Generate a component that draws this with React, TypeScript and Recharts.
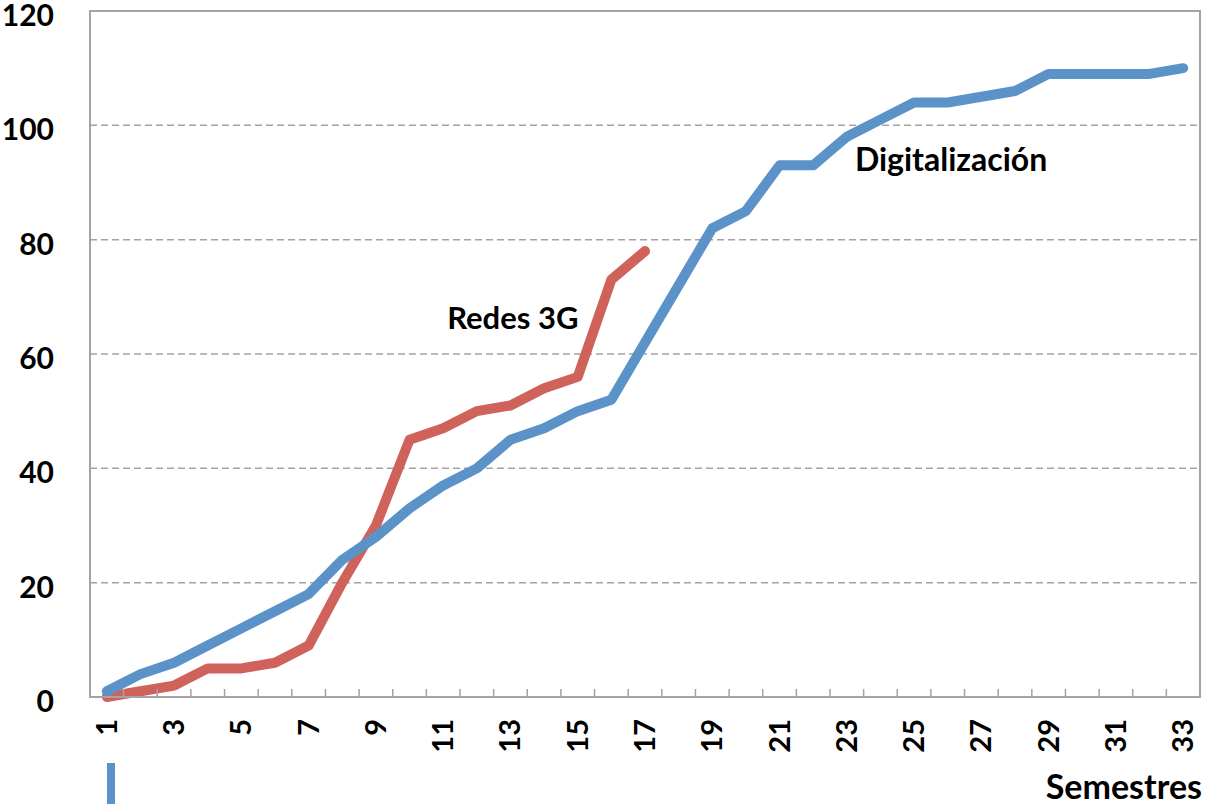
import React from 'react';
import {
  LineChart,
  Line,
  XAxis,
  YAxis,
  CartesianGrid,
  ReferenceArea,
  ReferenceDot,
} from 'recharts';

// ---- data ----
const semestres: number[] = [
  1, 2, 3, 4, 5, 6, 7, 8, 9, 10, 11, 12, 13, 14, 15, 16, 17,
  18, 19, 20, 21, 22, 23, 24, 25, 26, 27, 28, 29, 30, 31, 32, 33,
];
const digitalizacion: number[] = [
  1, 4, 6, 9, 12, 15, 18, 24, 28, 33, 37, 40, 45, 47, 50, 52, 62,
  72, 82, 85, 93, 93, 98, 101, 104, 104, 105, 106, 109, 109, 109, 109, 110,
];
const redes3G: number[] = [0, 1, 2, 5, 5, 6, 9, 20, 30, 45, 47, 50, 51, 54, 56, 73, 78];
const xTickLabels: number[] = [1, 3, 5, 7, 9, 11, 13, 15, 17, 19, 21, 23, 25, 27, 29, 31, 33];
const xBoundaries: number[] = semestres.map((s) => s - 0.5).concat([semestres[semestres.length - 1] + 0.5]);
const yTicks: number[] = [0, 20, 40, 60, 80, 100, 120];
const seriesNames = { dig: 'Digitalización', red: 'Redes 3G' };
const axisTitle = 'Semestres';

const data = semestres.map((s, i) => ({
  sem: s,
  dig: digitalizacion[i],
  red: i < redes3G.length ? redes3G[i] : null,
}));

// all axis ticks: category boundaries (tick marks) + labelled categories
const allXTicks: number[] = xBoundaries.concat(xTickLabels).sort((a, b) => a - b);

const FONT = 'Lato, "Open Sans", sans-serif';
const BLUE = '#5B93C9';
const RED = '#CF635B';
const GRAY = '#A3A3A3';

const XTick = (props: any) => {
  const { x, y, payload } = props;
  const v = payload.value as number;
  if (!Number.isInteger(v)) {
    return <line x1={x} x2={x} y1={y} y2={y - 8} stroke={GRAY} strokeWidth={1.5} />;
  }
  return (
    <text
      x={0}
      y={0}
      transform={`translate(${x + 10},${y + 22}) rotate(-90)`}
      textAnchor="end"
      fontFamily={FONT}
      fontWeight={700}
      fontSize={29}
      fill="#000"
    >
      {v}
    </text>
  );
};

const YTick = (props: any) => {
  const { x, y, payload } = props;
  return (
    <text
      x={x}
      y={y + 15}
      textAnchor="end"
      fontFamily={FONT}
      fontWeight={700}
      fontSize={30}
      fill="#000"
    >
      {payload.value}
    </text>
  );
};

const SeriesLabel = (text: string, size: number) => (props: any) => {
  const { viewBox } = props;
  const cx = viewBox.x + (viewBox.width || 0) / 2;
  const cy = viewBox.y + (viewBox.height || 0) / 2;
  return (
    <text
      x={cx}
      y={cy + 11}
      textAnchor="middle"
      fontFamily={FONT}
      fontWeight={700}
      fontSize={size}
      fill="#000"
    >
      {text}
    </text>
  );
};

export default function App() {
  return (
    <div style={{ position: 'absolute', left: 0, top: 0, width: 1207, height: 804, background: '#fff' }}>
      <LineChart
        width={1207}
        height={804}
        data={data}
        margin={{ top: 11, right: 7, bottom: 0, left: 0 }}
      >
        <CartesianGrid
          horizontal
          vertical={false}
          stroke={GRAY}
          strokeWidth={1.5}
          strokeDasharray="7 4"
        />
        <XAxis
          type="number"
          dataKey="sem"
          domain={[0.5, 33.5]}
          ticks={allXTicks}
          interval={0}
          height={107}
          tickLine={false}
          tickSize={0}
          tickMargin={0}
          axisLine={{ stroke: GRAY, strokeWidth: 2 }}
          tick={<XTick />}
          allowDataOverflow
        />
        <YAxis
          width={90}
          domain={[0, 120]}
          ticks={yTicks}
          tickLine={false}
          tickSize={0}
          tickMargin={36}
          axisLine={{ stroke: GRAY, strokeWidth: 2 }}
          tick={<YTick />}
          interval={0}
        />
        <ReferenceArea
          x1={0.5}
          x2={33.5}
          y1={0}
          y2={120}
          fill="none"
          fillOpacity={0}
          stroke={GRAY}
          strokeWidth={2}
        />
        <Line
          type="linear"
          dataKey="red"
          name={seriesNames.red}
          stroke={RED}
          strokeWidth={10}
          strokeLinecap="round"
          strokeLinejoin="round"
          dot={false}
          activeDot={false}
          connectNulls={false}
          isAnimationActive={false}
        />
        <Line
          type="linear"
          dataKey="dig"
          name={seriesNames.dig}
          stroke={BLUE}
          strokeWidth={10}
          strokeLinecap="round"
          strokeLinejoin="round"
          dot={false}
          activeDot={false}
          isAnimationActive={false}
        />
        <ReferenceDot x={13.07} y={66.3} r={0} stroke="none" fill="none" label={SeriesLabel(seriesNames.red, 31)} />
        <ReferenceDot x={26.1} y={94} r={0} stroke="none" fill="none" label={SeriesLabel(seriesNames.dig, 32)} />
      </LineChart>
      <div
        style={{
          position: 'absolute',
          left: 107,
          top: 763,
          width: 8,
          height: 41,
          background: BLUE,
        }}
      />
      <div
        style={{
          position: 'absolute',
          right: 5,
          top: 764,
          fontFamily: FONT,
          fontWeight: 700,
          fontSize: 34,
          lineHeight: '44px',
          color: '#000',
          whiteSpace: 'nowrap',
        }}
      >
        {axisTitle}
      </div>
    </div>
  );
}
